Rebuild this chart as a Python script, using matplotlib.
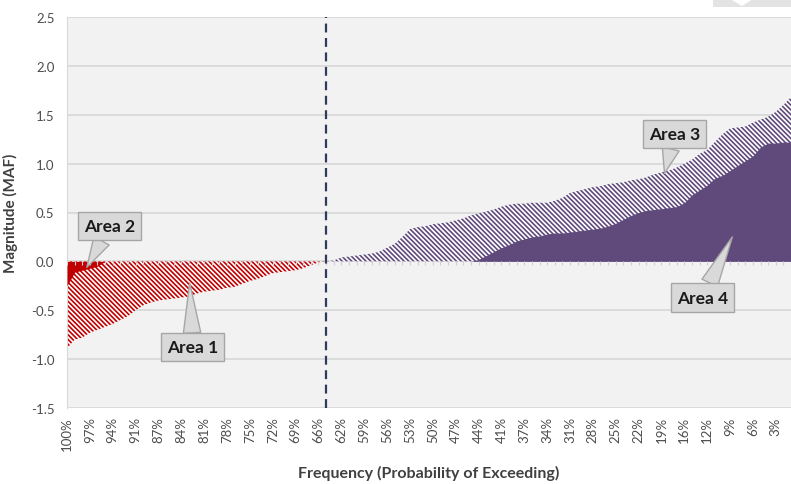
import numpy as np
import matplotlib
matplotlib.use('Agg')
import matplotlib.pyplot as plt
from matplotlib.patches import Polygon

plt.rcParams['font.family'] = ['Lato', 'DejaVu Sans']
plt.rcParams['hatch.linewidth'] = 1.2

# values (MAF), one per category (96 categories)
hatched_neg = [-0.89, -0.80, -0.78, -0.73, -0.70, -0.67, -0.64, -0.60, -0.56, -0.50,
               -0.45, -0.42, -0.40, -0.39, -0.38, -0.37, -0.36, -0.33, -0.31, -0.30,
               -0.29, -0.27, -0.26, -0.23, -0.20, -0.18, -0.15, -0.12, -0.11, -0.10,
               -0.09, -0.07, -0.04, -0.01, 0.00]
solid_neg = [-0.25, -0.11, -0.09, -0.07, -0.05, 0.00]
hatched_pos = [0.00, 0.01, 0.04, 0.05, 0.06, 0.07, 0.08, 0.10, 0.14, 0.18,
               0.25, 0.33, 0.35, 0.36, 0.38, 0.39, 0.40, 0.42, 0.44, 0.47,
               0.49, 0.51, 0.53, 0.56, 0.58, 0.59, 0.59, 0.60, 0.60, 0.60,
               0.62, 0.65, 0.70, 0.72, 0.74, 0.76, 0.77, 0.79, 0.80, 0.81,
               0.83, 0.84, 0.86, 0.89, 0.91, 0.93, 0.96, 1.00, 1.04, 1.10,
               1.14, 1.22, 1.30, 1.36, 1.37, 1.38, 1.42, 1.45, 1.48, 1.53,
               1.60, 1.68]
solid_pos = [0.00, 0.02, 0.06, 0.10, 0.14, 0.17, 0.21, 0.23, 0.25, 0.26,
             0.28, 0.29, 0.29, 0.30, 0.31, 0.32, 0.33, 0.34, 0.36, 0.39,
             0.43, 0.47, 0.50, 0.52, 0.53, 0.54, 0.55, 0.56, 0.60, 0.68,
             0.73, 0.78, 0.85, 0.88, 0.93, 0.98, 1.03, 1.08, 1.17, 1.21,
             1.21, 1.22, 1.22]
n_cat = 96
neg_start, pos_start, solid_pos_start = 0, 34, 53
threshold = 34

tick_labels = ['100%', '97%', '94%', '91%', '87%', '84%', '81%', '78%', '75%', '72%',
               '69%', '66%', '62%', '59%', '56%', '53%', '50%', '47%', '44%', '41%',
               '37%', '34%', '31%', '28%', '25%', '22%', '19%', '16%', '12%', '9%',
               '6%', '3%']

callouts = [('Area 1', (16.1, -0.22), (16.5, -0.88)),
            ('Area 2', (2.6, -0.06), (5.6, 0.36)),
            ('Area 3', (78.4, 0.90), (79.7, 1.30)),
            ('Area 4', (87.3, 0.25), (83.4, -0.37))]

RED = '#C00000'
PURPLE = '#5F4A7B'
HATCH = '\\' * 7

fig = plt.figure(figsize=(7.91, 4.85), dpi=100)
ax = fig.add_axes([67 / 791, 1 - 409 / 485, 1 - 67 / 791, (409 - 18) / 485])
ax.set_facecolor('#F2F2F2')

def seg(vals, start):
    return np.arange(start, start + len(vals)), np.array(vals)

x, y = seg(hatched_neg, neg_start)
ax.fill_between(x, 0, y, facecolor='white', edgecolor=RED, hatch=HATCH, linewidth=0, zorder=2)
x, y = seg(solid_neg, neg_start)
ax.fill_between(x, 0, y, color=RED, linewidth=0, zorder=3)
x, y = seg(hatched_pos, pos_start)
ax.fill_between(x, 0, y, facecolor='white', edgecolor=PURPLE, hatch=HATCH, linewidth=0, zorder=2)
x, y = seg(solid_pos, solid_pos_start)
ax.fill_between(x, 0, y, color=PURPLE, linewidth=0, zorder=3)

# category tick marks hanging from the zero line
cats = np.arange(n_cat)
ax.vlines(cats, -0.035, 0, color='#D3CCDA', linewidth=0.8, zorder=4)

ax.axvline(threshold, color='#2E3A5E', linestyle=(0, (4, 2.5)), linewidth=1.6, zorder=5)

ax.set_xlim(0, n_cat - 1)
ax.set_ylim(-1.5, 2.5)
ax.set_yticks(np.arange(-1.5, 2.51, 0.5))
ax.set_yticklabels(['%.1f' % v for v in np.arange(-1.5, 2.51, 0.5)])
ax.set_xticks(np.arange(0, n_cat, 3)[:len(tick_labels)])
ax.set_xticklabels(tick_labels, rotation=90)
ax.grid(axis='y', color='#D9D9D9', linewidth=1.3, zorder=0)
ax.set_axisbelow(True)
ax.tick_params(axis='both', length=0, labelsize=9.5, labelcolor='#4D4D4D')
ax.tick_params(axis='y', pad=9)
ax.tick_params(axis='x', pad=6)
for s in ['top', 'right', 'bottom']:
    ax.spines[s].set_visible(False)
ax.spines['left'].set_color('#D9D9D9')

ax.set_ylabel('Magnitude (MAF)', fontsize=11, fontweight='bold', color='#404040', labelpad=9)
ax.set_xlabel('Frequency (Probability of Exceeding)', fontsize=11.5, fontweight='bold',
              color='#404040', labelpad=11)

for text, tip, box in callouts:
    ax.annotate(text, xy=tip, xytext=box, ha='center', va='center',
                fontsize=12.5, fontweight='bold', color='#1A1A1A', zorder=6,
                bbox=dict(boxstyle='square,pad=0.35', fc='#D9D9D9', ec='#A6A6A6', lw=1),
                arrowprops=dict(arrowstyle='wedge,tail_width=1.0,shrink_factor=0.5',
                                fc='#D9D9D9', ec='#A6A6A6', lw=1, shrinkA=0, shrinkB=0))

# grey shape cut off at the top-right corner
W, H = 791, 485
pts = [(713, 0), (730, 0), (742, 7), (753, 0), (791, 0), (791, 8), (713, 8)]
fig.add_artist(Polygon([(px / W, 1 - py / H) for px, py in pts], closed=True,
                       transform=fig.transFigure, fc='#E3E3E3', ec='none'))

fig.savefig('out.png', dpi=100)
